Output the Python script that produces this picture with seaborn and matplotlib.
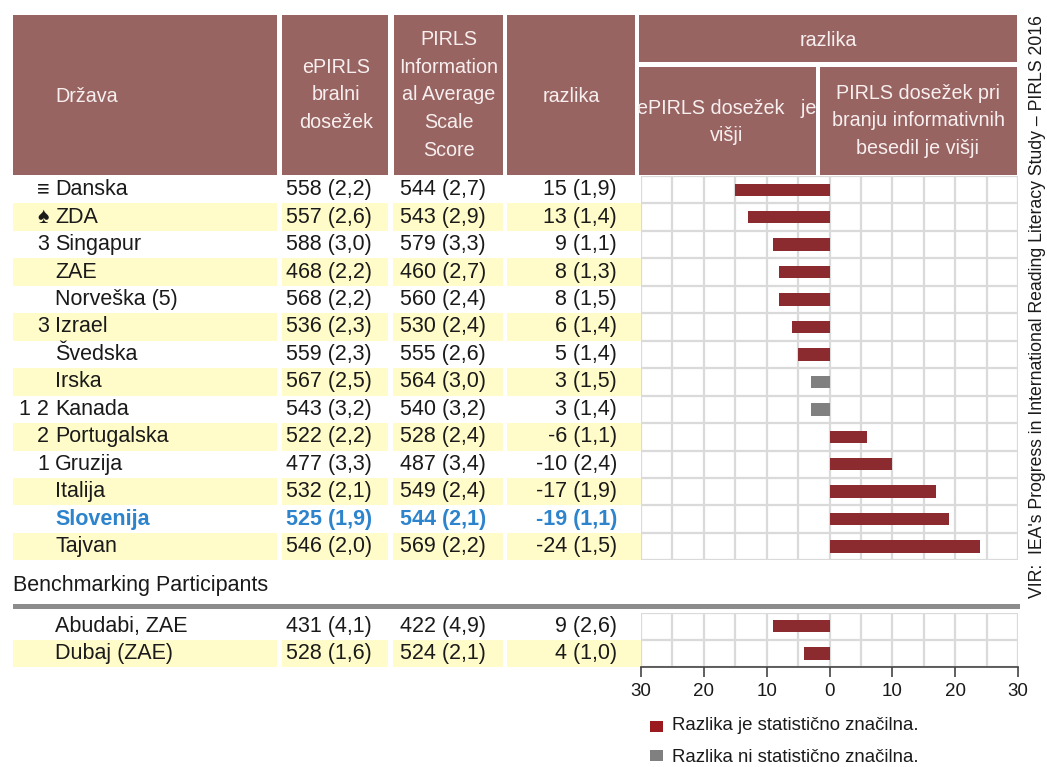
import numpy as np
import pandas as pd
import matplotlib
matplotlib.use("Agg")
import matplotlib.pyplot as plt
from matplotlib.patches import Rectangle
from matplotlib.ticker import MultipleLocator, FixedLocator, FuncFormatter
import seaborn as sns

# ---------------- data ----------------
countries = ["Danska", "ZDA", "Singapur", "ZAE", "Norveška (5)", "Izrael", "Švedska",
             "Irska", "Kanada", "Portugalska", "Gruzija", "Italija", "Slovenija", "Tajvan"]
marks = ["≡", "♠", "3", "", "", "3", "", "", "1 2", "2", "1", "", "", ""]
epirls = [558, 557, 588, 468, 568, 536, 559, 567, 543, 522, 477, 532, 525, 546]
epirls_se = [2.2, 2.6, 3.0, 2.2, 2.2, 2.3, 2.3, 2.5, 3.2, 2.2, 3.3, 2.1, 1.9, 2.0]
pirls = [544, 543, 579, 460, 560, 530, 555, 564, 540, 528, 487, 549, 544, 569]
pirls_se = [2.7, 2.9, 3.3, 2.7, 2.4, 2.4, 2.6, 3.0, 3.2, 2.4, 3.4, 2.4, 2.1, 2.2]
diff = [15, 13, 9, 8, 8, 6, 5, 3, 3, -6, -10, -17, -19, -24]
diff_se = [1.9, 1.4, 1.1, 1.3, 1.5, 1.4, 1.4, 1.5, 1.4, 1.1, 2.4, 1.9, 1.1, 1.5]
significant = [True, True, True, True, True, True, True, False, False, True, True, True, True, True]

bench_countries = ["Abudabi, ZAE", "Dubaj (ZAE)"]
bench_epirls = [431, 528]
bench_epirls_se = [4.1, 1.6]
bench_pirls = [422, 524]
bench_pirls_se = [4.9, 2.1]
bench_diff = [9, 4]
bench_diff_se = [2.6, 1.0]
bench_significant = [True, True]

highlight = "Slovenija"

header_country = "Država"
header_epirls = "ePIRLS\nbralni\ndosežek"
header_pirls = "PIRLS\nInformation\nal Average\nScale\nScore"
header_diff = "razlika"
header_bar = "razlika"
header_left = "ePIRLS dosežek   je\nvišji"
header_right = "PIRLS dosežek pri\nbranju informativnih\nbesedil je višji"
bench_title = "Benchmarking Participants"
legend_labels = ["Razlika je statistično značilna.", "Razlika ni statistično značilna."]
source = "VIR:  IEA's Progress in International Reading Literacy Study – PIRLS 2016"

# ---------------- style ----------------
HEAD = "#986462"
HEAD_TXT = "#F7EFEF"
YELLOW = "#FFFCC9"
RED = "#9B1A20"
GRAY = "#808080"
BLUE = "#2D84CC"
TXT = "#1A1A1A"
GRID = "#DADADA"

sns.set_theme(style="white")
plt.rcParams["font.family"] = ["Liberation Sans", "DejaVu Sans"]

W, H = 1047, 767
fig = plt.figure(figsize=(W / 100, H / 100), dpi=100)

# background axes in pixel coordinates (for table cells & texts)
bg = fig.add_axes([0, 0, 1, 1])
bg.set_xlim(0, W)
bg.set_ylim(H, 0)
bg.axis("off")

def rect(x0, y0, x1, y1, color, z=0):
    bg.add_patch(Rectangle((x0, y0), x1 - x0, y1 - y0, facecolor=color, edgecolor="none", zorder=z))

# header
hs = 14.2
lsp = 1.58
rect(13, 15, 277, 175, HEAD)
rect(282, 15, 388, 175, HEAD)
rect(394, 15, 503, 175, HEAD)
rect(507, 15, 635, 175, HEAD)
rect(639, 15, 1017, 62, HEAD)
rect(639, 67, 816, 175, HEAD)
rect(820, 67, 1017, 175, HEAD)
bg.text(55, 96, header_country, color=HEAD_TXT, fontsize=hs, ha="left", va="center")
bg.text(336, 95, header_epirls, color=HEAD_TXT, fontsize=hs, ha="center", va="center", linespacing=lsp)
bg.text(449, 95, header_pirls, color=HEAD_TXT, fontsize=hs, ha="center", va="center", linespacing=lsp)
bg.text(571, 96, header_diff, color=HEAD_TXT, fontsize=hs, ha="center", va="center")
bg.text(828, 40, header_bar, color=HEAD_TXT, fontsize=hs, ha="center", va="center")
bg.text(727, 122, header_left, color=HEAD_TXT, fontsize=hs, ha="center", va="center", linespacing=lsp)
bg.text(918, 121, header_right, color=HEAD_TXT, fontsize=hs, ha="center", va="center", linespacing=lsp)

# table rows
fs = 15.5
row_h = 27.45
top = 176
cols = [(13, 277), (282, 388), (393, 503), (507, 642)]

def fmt(v):
    return f"{v:.1f}".replace(".", ",")

def draw_row(yc, i, mark, name, e, ese, p, pse, d, dse):
    if i % 2 == 1:
        for x0, x1 in cols:
            rect(x0, yc - row_h / 2, x1, yc + row_h / 2, YELLOW)
    hl = name == highlight
    c = BLUE if hl else TXT
    w = "bold" if hl else "normal"
    if mark:
        bg.text(49, yc, mark, color=TXT, fontsize=fs, ha="right", va="center")
    bg.text(55, yc, name, color=c, fontsize=fs, ha="left", va="center", fontweight=w)
    bg.text(286, yc, f"{e} ({fmt(ese)})", color=c, fontsize=fs, ha="left", va="center", fontweight=w)
    bg.text(400, yc, f"{p} ({fmt(pse)})", color=c, fontsize=fs, ha="left", va="center", fontweight=w)
    bg.text(617, yc, f"{d} ({fmt(dse)})", color=c, fontsize=fs, ha="right", va="center", fontweight=w)

for i in range(len(countries)):
    yc = top + row_h * (i + 0.5)
    draw_row(yc, i, marks[i], countries[i], epirls[i], epirls_se[i], pirls[i], pirls_se[i], diff[i], diff_se[i])

main_bottom = top + row_h * len(countries)
bg.text(13, 585, bench_title, color=TXT, fontsize=fs, ha="left", va="center")
rect(13, 603.5, 1020, 609, "#8C8C8C", z=3)

btop = 612.5
for i in range(len(bench_countries)):
    yc = btop + row_h * (i + 0.5)
    draw_row(yc, i, "", bench_countries[i], bench_epirls[i], bench_epirls_se[i], bench_pirls[i],
             bench_pirls_se[i], bench_diff[i], bench_diff_se[i])
bbottom = btop + row_h * len(bench_countries)

# legend
ls = 13.4
rect(650, 721, 663, 732, RED)
bg.text(672, 726, legend_labels[0], color=TXT, fontsize=ls, ha="left", va="center")
rect(650, 750, 663, 761, GRAY)
bg.text(672, 757, legend_labels[1], color=TXT, fontsize=ls, ha="left", va="center")

# source (vertical)
bg.text(1037, 307, source, color=TXT, fontsize=12.7, rotation=90, ha="center", va="center")

# ---------------- bar axes ----------------
X0, X1 = 641, 1018
pal = {"yes": RED, "no": GRAY}

def bar_axes(y0, y1, names, d, sig, bottom_axis):
    ax = fig.add_axes([X0 / W, 1 - y1 / H, (X1 - X0) / W, (y1 - y0) / H])
    df = pd.DataFrame({"country": names, "value": [-v for v in d],
                       "sig": ["yes" if s else "no" for s in sig]})
    sns.barplot(data=df, x="value", y="country", hue="sig", palette=pal, orient="h",
                width=0.45, dodge=False, legend=False, linewidth=0, ax=ax)
    n = len(names)
    ax.set_xlim(-30, 30)
    ax.set_ylim(n - 0.5, -0.5)
    ax.set_facecolor("none")
    ax.set_xlabel("")
    ax.set_ylabel("")
    ax.xaxis.set_major_locator(MultipleLocator(10))
    ax.xaxis.set_minor_locator(MultipleLocator(5))
    ax.yaxis.set_minor_locator(FixedLocator(np.arange(-0.5, n, 1)))
    ax.grid(which="both", axis="x", color=GRID, linewidth=1.6, zorder=0)
    ax.grid(which="minor", axis="y", color=GRID, linewidth=1.6, zorder=0)
    ax.grid(which="major", axis="y", visible=False)
    ax.set_axisbelow(True)
    ax.set_yticklabels([])
    ax.tick_params(axis="y", which="both", left=False, length=0)
    for s in ["top", "right", "left"]:
        ax.spines[s].set_visible(False)
    if bottom_axis:
        ax.spines["bottom"].set_visible(True)
        ax.spines["bottom"].set_color("#444444")
        ax.spines["bottom"].set_linewidth(1.2)
        ax.tick_params(axis="x", which="major", bottom=True, direction="out", length=7,
                       width=1.2, color="#444444", labelsize=13.5, labelcolor=TXT, pad=4)
        ax.tick_params(axis="x", which="minor", bottom=False)
        ax.xaxis.set_major_formatter(FuncFormatter(lambda v, p: f"{abs(int(round(v)))}"))
    else:
        ax.spines["bottom"].set_visible(False)
        ax.tick_params(axis="x", which="both", bottom=False, labelbottom=False)
    return ax

bar_axes(top, main_bottom, countries, diff, significant, False)
bar_axes(btop, bbottom, bench_countries, bench_diff, bench_significant, True)

fig.savefig("out.png", dpi=100)
